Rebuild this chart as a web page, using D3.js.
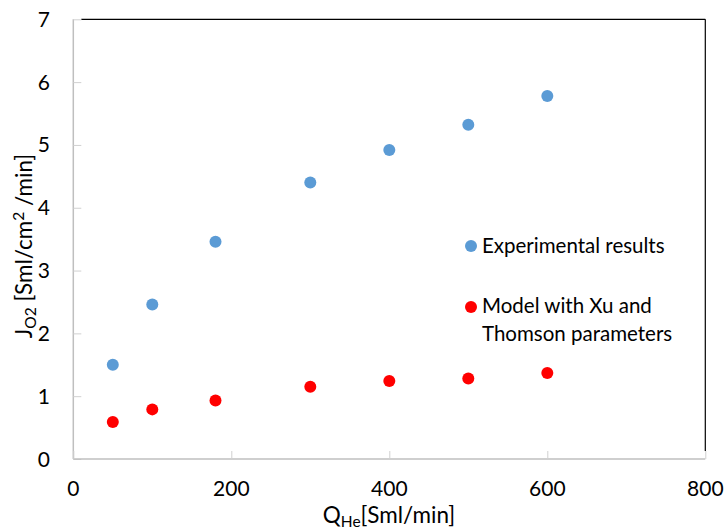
<!DOCTYPE html>
<html><head><meta charset="utf-8">
<script src="https://cdn.jsdelivr.net/npm/d3@7"></script>
<style>body{margin:0;background:#fff}svg{display:block}text{font-family:Lato,"Open Sans",sans-serif;fill:#000}</style>
</head><body><svg id="c" width="726" height="532"></svg>
<script>
const qHe = [50, 100, 180, 300, 400, 500, 600];
const experimental = [1.50, 2.46, 3.46, 4.40, 4.92, 5.32, 5.78];
const model = [0.59, 0.79, 0.93, 1.15, 1.24, 1.28, 1.37];
const xTicks = [0, 200, 400, 600, 800];
const yTicks = [0, 1, 2, 3, 4, 5, 6, 7];
const seriesNames = ["Experimental results", ["Model with Xu and", "Thomson parameters"]];
const colors = ["#5B9BD5", "#FF0000"];

const svg = d3.select("#c");
const L = 73.3, R = 705.3, T = 19.3, B = 459;
const x = d3.scaleLinear().domain([0, 800]).range([L, R]);
const y = d3.scaleLinear().domain([0, 7]).range([B, T]);
const fs = 21;

// frame top/right black
svg.append("line").attr("x1", L + 8).attr("x2", R).attr("y1", T).attr("y2", T).attr("stroke", "#000").attr("stroke-width", 1.2);
svg.append("line").attr("x1", R).attr("x2", R).attr("y1", T).attr("y2", B - 8).attr("stroke", "#000").attr("stroke-width", 1.2);

// y axis
const ya = svg.append("g").attr("transform", `translate(${L},0)`)
  .call(d3.axisRight(y).tickValues(yTicks).tickSize(8).tickFormat(""));
ya.select(".domain").attr("stroke", "#bfbfbf").attr("stroke-width", 1.5).attr("d", `M0,${T}V${B}`);
ya.selectAll(".tick line").attr("stroke", "#d0d0d0");
svg.append("g").selectAll("text").data(yTicks).join("text")
  .attr("x", 50).attr("y", d => y(d) + 7.5).attr("text-anchor", "end")
  .attr("font-size", fs).text(d => d);

// x axis
const xa = svg.append("g").attr("transform", `translate(0,${B})`)
  .call(d3.axisTop(x).tickValues(xTicks).tickSize(8).tickFormat(""));
xa.select(".domain").attr("stroke", "#bfbfbf").attr("stroke-width", 1.5).attr("d", `M${L},0H${R}`);
xa.selectAll(".tick line").attr("stroke", "#d0d0d0");
svg.append("g").selectAll("text").data(xTicks).join("text")
  .attr("x", d => x(d)).attr("y", 496).attr("text-anchor", "middle")
  .attr("font-size", fs).text(d => d);

// axis titles
const xt = svg.append("text").attr("x", 389).attr("y", 523).attr("text-anchor", "middle").attr("font-size", 22.5);
xt.append("tspan").text("Q");
xt.append("tspan").attr("font-size", 15.5).attr("dy", 4).text("He");
xt.append("tspan").attr("dy", -4).text("[Sml/min]");

const yt = svg.append("text").attr("transform", "translate(32,246) rotate(-90)").attr("text-anchor", "middle").attr("font-size", 22.5);
yt.append("tspan").text("J");
yt.append("tspan").attr("font-size", 15.5).attr("dy", 4).text("O2");
yt.append("tspan").attr("dy", -4).text(" [Sml/cm");
yt.append("tspan").attr("font-size", 15.5).attr("dy", -8).text("2");
yt.append("tspan").attr("dy", 8).text(" /min]");

// points
[experimental, model].forEach((vals, i) => {
  svg.append("g").selectAll("circle").data(vals).join("circle")
    .attr("cx", (d, j) => x(qHe[j])).attr("cy", d => y(d)).attr("r", 6).attr("fill", colors[i]);
});

// legend
const lfs = 20.5;
svg.append("circle").attr("cx", 471).attr("cy", 246).attr("r", 6).attr("fill", colors[0]);
svg.append("text").attr("x", 482).attr("y", 253).attr("font-size", lfs).text(seriesNames[0]);
svg.append("circle").attr("cx", 471).attr("cy", 307).attr("r", 6).attr("fill", colors[1]);
seriesNames[1].forEach((s, k) => {
  svg.append("text").attr("x", 482).attr("y", 313 + k * 27.5).attr("font-size", lfs).text(s);
});
</script></body></html>
